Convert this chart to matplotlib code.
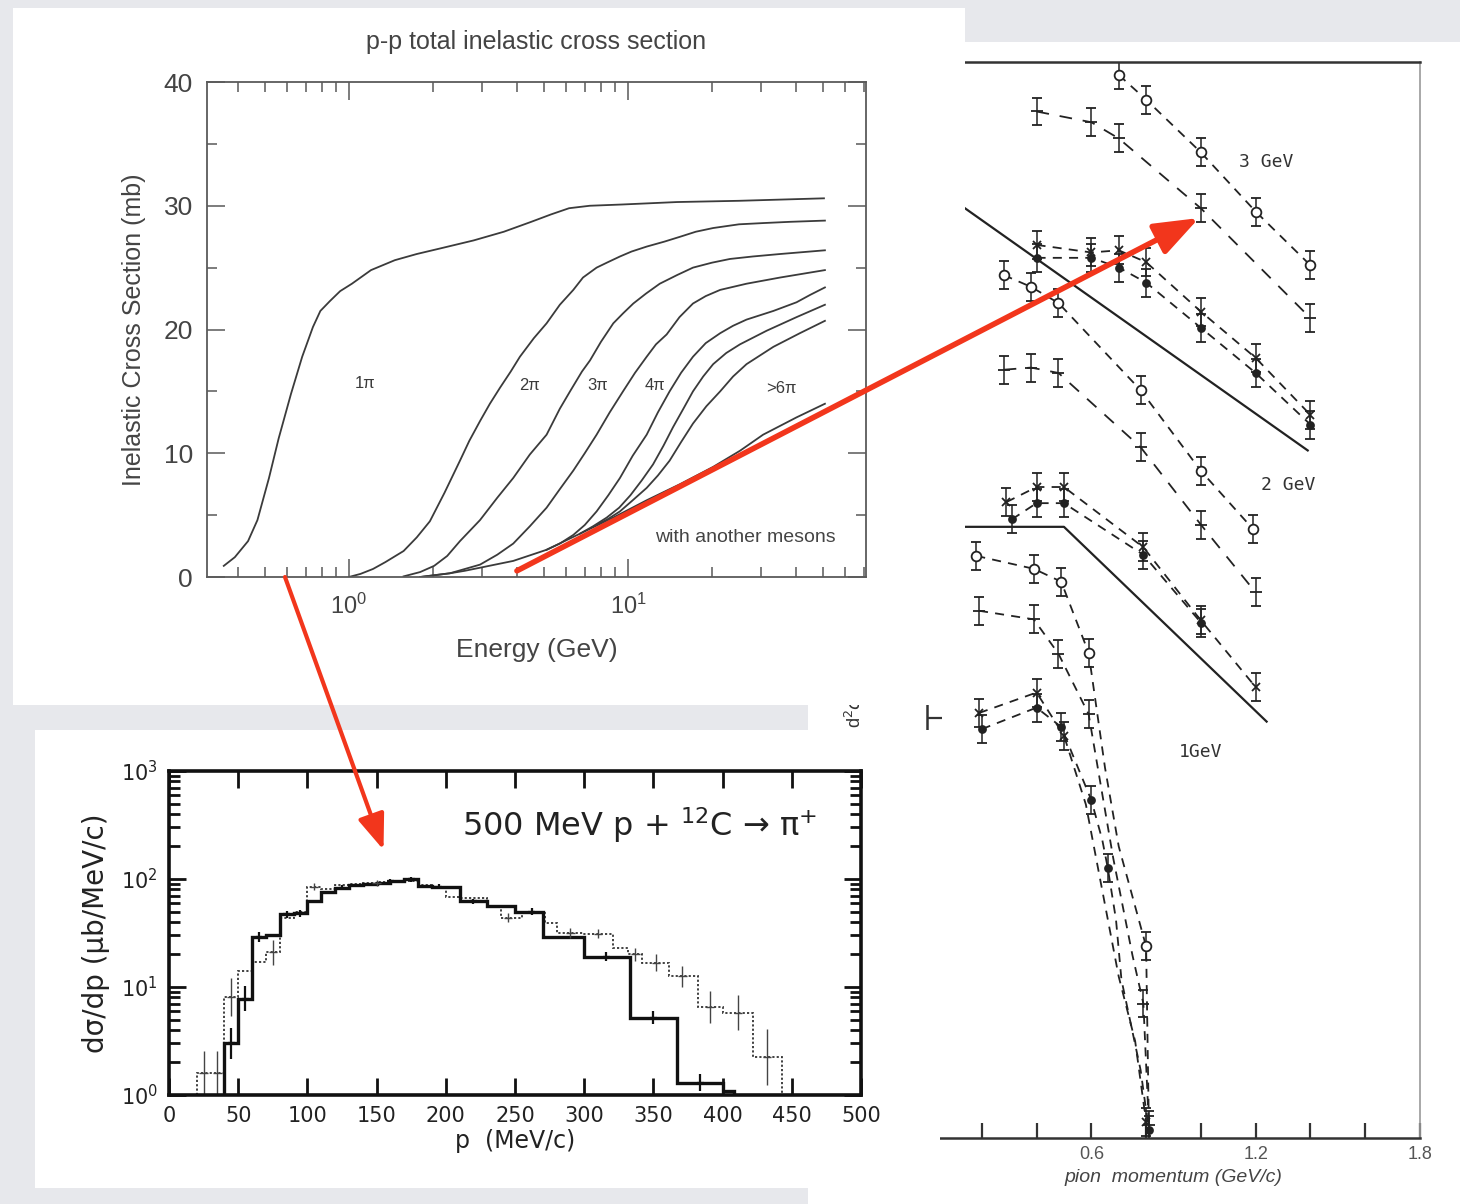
import numpy as np
import matplotlib
matplotlib.use("Agg")
import matplotlib.pyplot as plt
from matplotlib.patches import Rectangle, ConnectionPatch
from matplotlib.ticker import LogLocator, NullFormatter, MultipleLocator

plt.rcParams["font.family"] = ["Liberation Sans", "DejaVu Sans"]
plt.rcParams["mathtext.fontset"] = "dejavusans"

W, H = 1460, 1204
BG = "#e7e8ec"
RED = "#f2361c"
INK = "#3b3b3b"

# ---------- top: p-p total inelastic cross section (E in GeV, sigma in mb)
e_1pi = [0.356, 0.39, 0.435, 0.47, 0.517, 0.56, 0.62, 0.68, 0.743, 0.79, 0.855, 0.93, 1.025,
         1.2, 1.46, 1.75, 2.17, 2.8, 3.59, 4.5, 5.3, 6.15, 7.3, 9.5, 15, 25, 50.4]
s_1pi = [0.9, 1.6, 2.9, 4.6, 8.0, 11.2, 14.8, 17.8, 20.2, 21.5, 22.3, 23.1, 23.7,
         24.8, 25.6, 26.1, 26.6, 27.2, 27.9, 28.7, 29.3, 29.8, 30.0, 30.1, 30.3, 30.4, 30.6]
e_2pi = [1.0, 1.1, 1.22, 1.35, 1.57, 1.75, 1.95, 2.2, 2.5, 2.7, 2.95, 3.2, 3.48, 3.8, 4.1, 4.6,
         5.11, 5.7, 6.37, 6.9, 7.72, 8.4, 9.36, 10.3, 11.67, 13.5, 15.4, 17.5, 20.2, 25, 30.5, 38, 50.8]
s_2pi = [0.0, 0.25, 0.65, 1.2, 2.1, 3.2, 4.5, 6.8, 9.4, 11.0, 12.6, 14.0, 15.3, 16.6, 17.8, 19.3,
         20.5, 22.0, 23.2, 24.2, 25.0, 25.4, 25.9, 26.3, 26.7, 27.1, 27.5, 27.9, 28.2, 28.5, 28.6, 28.7, 28.8]
e_3pi = [1.57, 1.8, 2.02, 2.25, 2.5, 2.95, 3.4, 3.88, 4.45, 5.11, 5.7, 6.2, 6.84, 7.31, 8.0, 8.86,
         9.6, 10.45, 11.6, 13.0, 15, 17.1, 20, 23.2, 28, 35.1, 50.8]
s_3pi = [0.05, 0.4, 0.9, 1.7, 2.9, 4.6, 6.4, 8.0, 9.9, 11.5, 13.6, 15.0, 16.6, 17.5, 19.0, 20.5,
         21.3, 22.1, 22.9, 23.7, 24.4, 25.0, 25.4, 25.7, 25.9, 26.1, 26.4]
e_4pi = [1.8, 2.3, 2.95, 3.4, 3.88, 4.45, 5.11, 5.7, 6.37, 7.0, 7.72, 8.6, 9.6, 10.6, 11.67, 12.6,
         13.76, 15.3, 17.1, 19, 21.4, 26.6, 35.1, 50.8]
s_4pi = [0.0, 0.3, 1.0, 1.8, 2.7, 4.1, 5.6, 7.1, 8.6, 10.0, 11.5, 13.3, 15.0, 16.5, 17.8, 18.8,
         19.6, 21.0, 22.1, 22.7, 23.2, 23.7, 24.2, 24.8]
e_5pi = [5.11, 5.7, 6.37, 7.0, 7.72, 8.5, 9.36, 10.4, 11.67, 12.8, 14.1, 15.5, 17.1, 19, 21.4,
         23.8, 26.6, 33.2, 40.2, 45, 50.8]
s_5pi = [2.2, 2.7, 3.4, 4.2, 5.3, 6.6, 8.0, 9.8, 11.5, 13.3, 15.0, 16.5, 17.8, 18.9, 19.7,
         20.3, 20.8, 21.5, 22.2, 22.8, 23.4]
e_6pi = [6.73, 7.5, 8.39, 9.3, 10.2, 11.2, 12.3, 13.4, 14.5, 15.8, 17.1, 18.6, 20.2, 22.5, 25.2,
         31.4, 40.2, 50.8]
s_6pi = [3.5, 4.1, 4.8, 5.6, 6.6, 7.8, 9.1, 10.6, 12.1, 13.6, 15.0, 16.2, 17.2, 18.1, 18.8,
         19.9, 21.0, 22.0]
e_gt6 = [7.72, 8.5, 9.36, 10.4, 11.67, 12.8, 14.1, 15.5, 17.1, 19.1, 21.4, 23.8, 26.6, 33.2, 41.3, 50.8]
s_gt6 = [4.2, 4.7, 5.3, 6.2, 7.2, 8.2, 9.4, 10.9, 12.4, 13.8, 15.0, 16.2, 17.2, 18.6, 19.7, 20.7]
e_mes = [1.8, 2.3, 2.6, 2.95, 3.88, 5.11, 6.73, 8.86, 11.67, 15.36, 20.2, 25.2, 30.5, 40.2, 50.8]
s_mes = [0.0, 0.3, 0.5, 0.75, 1.3, 2.2, 3.5, 4.8, 6.2, 7.5, 8.9, 10.2, 11.5, 12.9, 14.0]

# ---------- bottom: 500 MeV p + 12C -> pi+ spectrum
solid_edges = [40, 50, 60, 70, 80, 90, 100, 110, 120, 130, 140, 150, 160, 170, 180, 190,
               200, 210, 230, 250, 270, 300, 333, 367, 400, 408]
solid_vals = [3.0, 7.8, 29, 30, 47, 48, 62, 75, 83, 88, 90, 92, 95, 99, 86, 85, 84,
              62, 56, 50, 29, 19, 5.2, 1.3, 1.08]
dotted_edges = [20, 30, 40, 50, 60, 70, 80, 90, 100, 110, 120, 130, 140, 150, 160, 170, 180,
                190, 200, 210, 230, 240, 255, 272, 280, 299, 321, 332, 342, 361, 382, 400, 422, 443]
dotted_vals = [1.6, 1.6, 8.0, 14, 17, 21, 44, 50, 85, 80, 88, 90, 92, 93, 94, 95, 88, 85, 68,
               66, 55, 44, 48, 39, 31.5, 31, 23, 20, 16.7, 12.6, 6.5, 5.8, 2.25]
dot_err_p = [25, 35, 45, 75, 105, 150, 245, 290, 310, 337, 352, 371, 391, 411, 432]
dot_err_v = [1.6, 1.6, 8.0, 21, 85, 92, 44, 31.5, 31, 20, 16.7, 12.6, 6.5, 5.8, 2.25]
dot_err_f = [1.6, 1.6, 1.5, 1.3, 1.08, 1.06, 1.1, 1.12, 1.1, 1.15, 1.2, 1.25, 1.4, 1.45, 1.8]
sol_err_p = [45, 55, 65, 85, 95, 125, 160, 175, 195, 220, 262, 316, 350, 384]
sol_err_v = [3.0, 7.8, 29, 47, 48, 83, 95, 99, 85, 62, 50, 19, 5.2, 1.3]
sol_err_f = [1.4, 1.3, 1.12, 1.08, 1.08, 1.05, 1.05, 1.05, 1.05, 1.06, 1.07, 1.1, 1.15, 1.2]

# ---------- right: pion spectra at 1, 2, 3 GeV (arbitrary log scale)
a3_x = [0.70, 0.80, 1.00, 1.20, 1.40]
a3_y = [9.88, 9.65, 9.16, 8.61, 8.11]
b3_x = [0.40, 0.60, 0.70, 1.00, 1.40]
b3_y = [9.54, 9.44, 9.29, 8.64, 7.62]
c3_x = [0.40, 0.60, 0.70, 0.80, 1.00, 1.20, 1.40]
c3_y = [8.30, 8.23, 8.25, 8.14, 7.68, 7.25, 6.72]
d3_y = [8.18, 8.18, 8.09, 7.95, 7.53, 7.11, 6.63]
lim3_x = [0.0, 1.39]
lim3_y = [8.89, 6.39]

a2_x = [0.28, 0.38, 0.48, 0.78, 1.00, 1.19]
a2_y = [8.02, 7.91, 7.76, 6.95, 6.20, 5.66]
b2_x = [0.28, 0.38, 0.48, 0.78, 1.00, 1.20]
b2_y = [7.14, 7.16, 7.11, 6.42, 5.70, 5.07]
c2_x = [0.29, 0.40, 0.50, 0.79, 1.00, 1.20]
c2_y = [5.91, 6.05, 6.05, 5.49, 4.81, 4.19]
d2_x = [0.31, 0.40, 0.50, 0.79, 1.00]
d2_y = [5.75, 5.90, 5.90, 5.42, 4.79]
lim2_x = [0.0, 0.50, 1.24]
lim2_y = [5.68, 5.68, 3.87]

a1_x = [0.18, 0.39, 0.49, 0.59, 0.65, 0.70, 0.80, 0.81]
a1_y = [5.41, 5.29, 5.17, 4.51, 3.44, 2.71, 1.78, 0.12]
a1_marks = [0, 1, 2, 3, 6]
b1_x = [0.19, 0.39, 0.48, 0.59, 0.68, 0.75, 0.79, 0.81]
b1_y = [4.90, 4.82, 4.50, 3.94, 2.60, 1.70, 1.25, 0.12]
b1_marks = [0, 1, 2, 3, 6, 7]
c1_x = [0.19, 0.40, 0.50, 0.58, 0.64, 0.70, 0.76, 0.80]
c1_y = [3.95, 4.14, 3.74, 3.10, 2.30, 1.50, 0.90, 0.15]
c1_marks = [0, 1, 2, 7]
d1_x = [0.20, 0.40, 0.49, 0.60, 0.64, 0.66, 0.69, 0.71, 0.78, 0.81]
d1_y = [3.80, 4.00, 3.82, 3.14, 2.77, 2.51, 2.03, 1.47, 0.63, 0.07]
d1_marks = [0, 1, 2, 3, 5, 9]

right_yticks = [3.9]


def frac(x0, y0, x1, y1):
    # pixel box (origin top-left) -> [left, bottom, width, height]
    return [x0 / W, 1 - y1 / H, (x1 - x0) / W, (y1 - y0) / H]


def panel(fig, box, z):
    l, b, w, h = frac(*box)
    fig.add_artist(Rectangle((l, b), w, h, transform=fig.transFigure,
                             facecolor="white", edgecolor="none", zorder=z))


def spectrum(ax, xs, ys, kind, marks=None, dash=(5, 4)):
    ax.plot(xs, ys, ls=(0, dash), color="#222222", lw=1.3)
    if marks is None:
        marks = range(len(xs))
    mx = [xs[i] for i in marks]
    my = [ys[i] for i in marks]
    style = {"o": dict(fmt="o", ms=7, mfc="white"),
             "I": dict(fmt="_", ms=9, mfc="#222222"),
             "x": dict(fmt="x", ms=6, mfc="#222222"),
             ".": dict(fmt="o", ms=5, mfc="#222222")}[kind]
    ax.errorbar(mx, my, yerr=0.13, mec="#222222", mew=1.3, ecolor="#222222",
                elinewidth=1.1, capsize=3.5, capthick=1.1, **style)


fig = plt.figure(figsize=(W / 100, H / 100), dpi=100, facecolor=BG)

# ---------------- right panel
panel(fig, (808, 42, 1460, 1204), 1)
axR = fig.add_axes(frac(927, 62, 1420, 1138))
axR.set_zorder(2)
axR.set_facecolor("none")
axR.set_xlim(0, 1.8)
axR.set_ylim(0, 10)

spectrum(axR, a3_x, a3_y, "o")
spectrum(axR, b3_x, b3_y, "I", dash=(7, 6))
spectrum(axR, c3_x, c3_y, "x")
spectrum(axR, c3_x, d3_y, ".")
axR.plot(lim3_x, lim3_y, color="#222222", lw=1.6)

spectrum(axR, a2_x, a2_y, "o")
spectrum(axR, b2_x, b2_y, "I", dash=(7, 6))
spectrum(axR, c2_x, c2_y, "x")
spectrum(axR, d2_x, d2_y, ".")
axR.plot(lim2_x, lim2_y, color="#222222", lw=1.6)

spectrum(axR, a1_x, a1_y, "o", a1_marks)
spectrum(axR, b1_x, b1_y, "I", b1_marks)
spectrum(axR, c1_x, c1_y, "x", c1_marks)
spectrum(axR, d1_x, d1_y, ".", d1_marks)

mono = dict(family=["DejaVu Sans Mono"], fontsize=13, color="#333333")
axR.text(1.24, 9.07, "3 GeV", ha="center", va="center", **mono)
axR.text(1.32, 6.07, "2 GeV", ha="center", va="center", **mono)
axR.text(1.00, 3.59, "1GeV", ha="center", va="center", **mono)

ticks = np.round(np.arange(0, 1.81, 0.2), 1)
axR.set_xticks(ticks)
axR.set_xticklabels([f"{t:.1f}" if t in (0.6, 1.2, 1.8) else "" for t in ticks])
axR.set_yticks(right_yticks)
axR.set_yticklabels([])
axR.tick_params(direction="in", length=11, width=1.6, colors="#333333",
                labelsize=13, labelcolor="#555555", pad=6)
axR.set_xlabel("pion  momentum (GeV/c)", fontstyle="italic", fontsize=14,
               color="#444444", labelpad=4)
for side in ("bottom", "left", "top"):
    axR.spines[side].set_color("#333333")
    axR.spines[side].set_linewidth(1.8)
axR.spines["right"].set_color("#9a9a9a")
axR.spines["right"].set_linewidth(1.2)
axR.text(-0.146, 0.381, "d$^2\\sigma$/dp d$\\Omega$ (mb/sr GeV/c)", rotation=90,
         rotation_mode="anchor", ha="left", va="center", fontsize=13,
         color="#333333", transform=axR.transAxes)

# white mask over the cropped left side of the right scan
panel(fig, (808, 730, 940, 1204), 3)

# ---------------- top panel
panel(fig, (13, 8, 965, 705), 4)
axT = fig.add_axes(frac(207, 82, 866, 577))
axT.set_zorder(5)
axT.set_xscale("log")
axT.set_xlim(0.31, 71.3)
axT.set_ylim(0, 40)
for e, s in [(e_1pi, s_1pi), (e_2pi, s_2pi), (e_3pi, s_3pi), (e_4pi, s_4pi),
             (e_5pi, s_5pi), (e_6pi, s_6pi), (e_gt6, s_gt6), (e_mes, s_mes)]:
    axT.plot(e, s, color=INK, lw=1.3, solid_joinstyle="round")

lab = dict(fontsize=12, color=INK, ha="center", va="center")
axT.text(1.14, 15.6, "1π", **lab)
axT.text(4.45, 15.5, "2π", **lab)
axT.text(7.8, 15.5, "3π", **lab)
axT.text(12.5, 15.5, "4π", **lab)
axT.text(35.5, 15.2, ">6π", **lab)
axT.text(26.3, 3.2, "with another mesons", fontsize=14, color="#444444",
         ha="center", va="center")

axT.xaxis.set_major_locator(LogLocator(base=10, numticks=10))
axT.xaxis.set_minor_locator(LogLocator(base=10, subs=np.arange(2, 10), numticks=10))
axT.xaxis.set_minor_formatter(NullFormatter())
axT.yaxis.set_major_locator(MultipleLocator(10))
axT.yaxis.set_minor_locator(MultipleLocator(5))
axT.tick_params(which="both", direction="in", top=True, right=True,
                color="#666666", width=1.2, labelcolor="#444444")
axT.tick_params(which="major", length=13)
axT.tick_params(which="minor", length=7)
axT.tick_params(axis="x", labelsize=17, pad=12)
axT.tick_params(axis="y", labelsize=19, pad=10)
for sp in axT.spines.values():
    sp.set_color("#5a5a5a")
    sp.set_linewidth(1.3)
axT.set_title("p-p total inelastic cross section", fontsize=18, color="#444444", pad=24)
axT.set_xlabel("Energy (GeV)", fontsize=19, color="#444444", labelpad=14)
axT.set_ylabel("Inelastic Cross Section (mb)", fontsize=18, color="#444444", labelpad=13)

# ---------------- bottom-left panel
panel(fig, (35, 730, 808, 1188), 6)
axB = fig.add_axes(frac(169, 771, 861, 1095))
axB.set_zorder(7)
axB.set_yscale("log")
axB.set_xlim(0, 500)
axB.set_ylim(1, 1000)
axB.stairs(dotted_vals, dotted_edges, baseline=1, color="#333333", lw=1.3, ls=(0, (1.2, 1.2)))
axB.stairs(solid_vals, solid_edges, baseline=1, color="#111111", lw=2.4)
dv = np.array(dot_err_v)
df = np.array(dot_err_f)
axB.errorbar(dot_err_p, dv, xerr=3, yerr=[dv - dv / df, dv * df - dv], fmt="none",
             ecolor="#444444", elinewidth=1.0)
sv = np.array(sol_err_v)
sf = np.array(sol_err_f)
axB.errorbar(sol_err_p, sv, xerr=2.5, yerr=[sv - sv / sf, sv * sf - sv], fmt="none",
             ecolor="#111111", elinewidth=1.6)
axB.text(340, 316, "500 MeV p + $^{12}$C → π$^{+}$", family=["DejaVu Sans"],
         fontsize=23, color="#222222", ha="center", va="center")

axB.set_xticks(np.arange(0, 501, 50))
axB.yaxis.set_minor_locator(LogLocator(base=10, subs=np.arange(2, 10), numticks=10))
axB.yaxis.set_minor_formatter(NullFormatter())
axB.tick_params(which="both", direction="in", top=True, right=True, width=2,
                color="#111111", labelcolor="#222222")
axB.tick_params(which="major", length=12, labelsize=15, pad=8)
axB.tick_params(which="minor", length=8)
for t in axB.get_xticklabels() + axB.get_yticklabels():
    t.set_family(["DejaVu Sans"])
for sp in axB.spines.values():
    sp.set_color("#111111")
    sp.set_linewidth(2.6)
axB.set_xlabel("p  (MeV/c)", family=["DejaVu Sans"], fontsize=17, color="#222222", labelpad=2)
axB.set_ylabel("dσ/dp (μb/MeV/c)", family=["DejaVu Sans"], fontsize=20,
               color="#222222", labelpad=8)

# ---------------- red arrows linking the panels
arrow1 = ConnectionPatch(xyA=(0.59, 0.0), coordsA=axT.transData,
                         xyB=(155, 186), coordsB=axB.transData,
                         arrowstyle="-|>,head_length=1.45,head_width=0.55",
                         mutation_scale=15, lw=3.0, color=RED,
                         shrinkA=0, shrinkB=0, zorder=10)
arrow2 = ConnectionPatch(xyA=(4.0, 0.5), coordsA=axT.transData,
                         xyB=(0.993, 8.55), coordsB=axR.transData,
                         arrowstyle="-|>,head_length=1.5,head_width=0.56",
                         mutation_scale=18, lw=4.0, color=RED,
                         shrinkA=0, shrinkB=0, zorder=10)
for a in (arrow1, arrow2):
    a.set_annotation_clip(False)
    fig.add_artist(a)

fig.savefig("out.png", dpi=100, facecolor=BG)
